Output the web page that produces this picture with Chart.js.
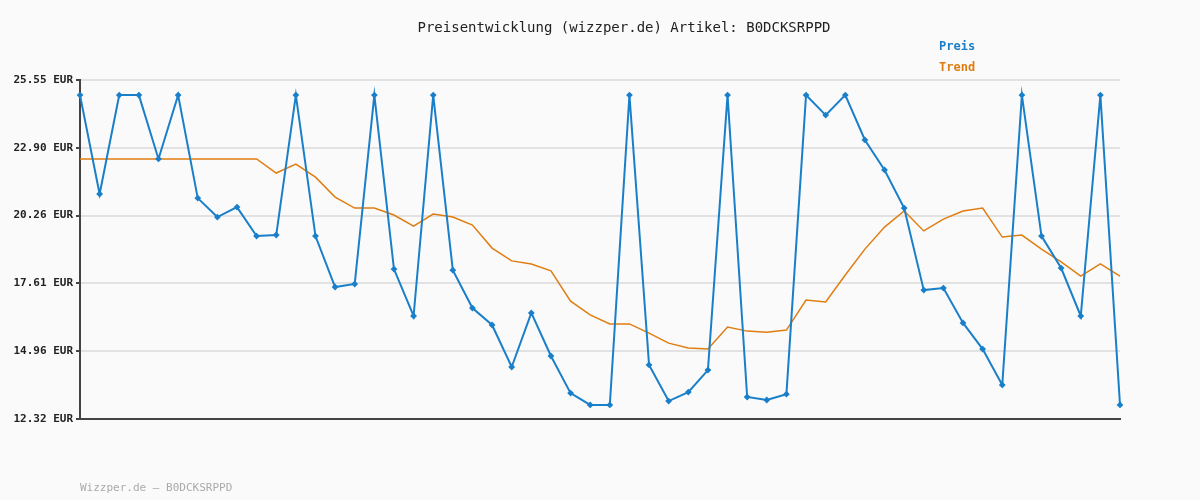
<!DOCTYPE html>
<html>
<head>
<meta charset="utf-8">
<script src="https://cdn.jsdelivr.net/npm/chart.js@4"></script>
<style>
  body { margin: 0; background: #fafafa; }
  #wrap { position: relative; width: 1200px; height: 500px; font-family: "DejaVu Sans Mono", monospace; }
  #title { position: absolute; top: 19px; left: 0; width: 1248px; text-align: center; font-size: 14px; color: #222; }
  .leg { position: absolute; left: 939px; font-size: 12px; font-weight: bold; }
  #foot { position: absolute; left: 80px; top: 481px; font-size: 11px; color: #aaa; }
</style>
</head>
<body>
<div id="wrap">
  <canvas id="c" width="1200" height="500"></canvas>
  <div id="title">Preisentwicklung (wizzper.de) Artikel: B0DCKSRPPD</div>
  <div class="leg" style="top:39px;color:#1a7fc9">Preis</div>
  <div class="leg" style="top:60px;color:#e07d10">Trend</div>
  <div id="foot">Wizzper.de – B0DCKSRPPD</div>
</div>
<script>
const yTicks = [12.32, 14.96, 17.61, 20.26, 22.90, 25.55];
const preis = [24.96, 21.10, 24.96, 24.96, 22.47, 24.96, 20.94, 20.20, 20.59, 19.46,
  19.50, 24.96, 19.46, 17.47, 17.59, 24.96, 18.17, 16.34, 24.96, 18.13,
  16.65, 15.99, 14.35, 16.46, 14.78, 13.33, 12.87, 12.87, 24.96, 14.43,
  13.02, 13.37, 14.23, 24.96, 13.18, 13.06, 13.29, 24.96, 24.18, 24.96,
  23.21, 22.04, 20.55, 17.35, 17.43, 16.07, 15.05, 13.65, 24.96, 19.46,
  18.21, 16.34, 24.96, 12.87];
const trend = [22.47, 22.47, 22.47, 22.47, 22.47, 22.47, 22.47, 22.47, 22.47, 22.47,
  21.92, 22.27, 21.76, 20.98, 20.55, 20.55, 20.28, 19.85, 20.32, 20.20,
  19.89, 18.99, 18.49, 18.37, 18.10, 16.92, 16.38, 16.03, 16.03, 15.67,
  15.28, 15.09, 15.05, 15.91, 15.75, 15.71, 15.79, 16.96, 16.89, 17.94,
  18.95, 19.81, 20.44, 19.66, 20.12, 20.44, 20.55, 19.42, 19.50, 18.95,
  18.45, 17.90, 18.37, 17.90];
const labels = preis.map((_, i) => i);

new Chart(document.getElementById('c'), {
  type: 'line',
  data: {
    labels: labels,
    datasets: [
      { label: 'Preis', data: preis, borderColor: '#1a7fc9', backgroundColor: '#1a7fc9',
        borderWidth: 2, pointStyle: 'rectRot', pointRadius: 2, tension: 0 },
      { label: 'Trend', data: trend, borderColor: '#e07d10', borderWidth: 1.5,
        pointRadius: 0, tension: 0 }
    ]
  },
  options: {
    responsive: false,
    animation: false,
    layout: { padding: { top: 80, right: 80, left: 0, bottom: 0 } },
    plugins: { legend: { display: false }, tooltip: { enabled: false } },
    scales: {
      x: {
        offset: false,
        ticks: { display: false },
        grid: { display: false },
        border: { color: '#444', width: 2 },
        afterFit: (s) => { s.height = 81; }
      },
      y: {
        min: 12.32, max: 25.55,
        afterBuildTicks: (s) => { s.ticks = yTicks.map(v => ({ value: v })); },
        afterFit: (s) => { s.width = 80; },
        ticks: {
          color: '#222',
          font: { family: 'DejaVu Sans Mono', size: 11, weight: 'bold' },
          callback: (v) => v.toFixed(2) + ' EUR'
        },
        grid: { color: '#e2e2e2', lineWidth: 2, drawTicks: true, tickLength: 4, tickColor: '#444' },
        border: { color: '#444', width: 2 }
      }
    }
  }
});
</script>
</body>
</html>
